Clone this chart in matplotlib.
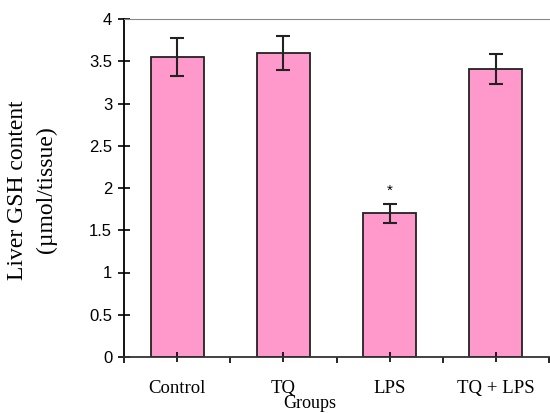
import matplotlib
matplotlib.use("Agg")
import matplotlib.pyplot as plt
import numpy as np

groups = ["Control", "TQ", "LPS", "TQ + LPS"]
gsh_mean = [3.55, 3.60, 1.70, 3.41]
gsh_err = [0.22, 0.20, 0.11, 0.18]
sig_marks = ["", "", "*", ""]

W, H = 550, 413
fig = plt.figure(figsize=(W / 100, H / 100), dpi=100)
ax = fig.add_axes([124 / W, 1 - 357 / H, 425 / W, 338 / H])

x = np.arange(len(groups))
ax.bar(x, gsh_mean, width=0.5, color="#ff99cc", edgecolor="#222222", linewidth=1.3,
       yerr=gsh_err, error_kw=dict(ecolor="#222222", elinewidth=1.5, capsize=5, capthick=1.5))

for xi, m, e, s in zip(x, gsh_mean, gsh_err, sig_marks):
    if s:
        ax.text(xi, m + e + 0.07, s, ha="center", va="bottom", fontsize=11,
                family="Liberation Sans")

ax.set_xlim(-0.5, 3.5)
ax.set_ylim(0, 4)
ax.set_yticks(np.arange(0, 4.01, 0.5))
ax.set_yticklabels(["0", "0.5", "1", "1.5", "2", "2.5", "3", "3.5", "4"],
                   family="Liberation Sans", fontsize=12)
ax.set_xticks(x)
ax.set_xticklabels(groups, family="Liberation Serif", fontsize=13.5)
ax.set_xticks(np.arange(-0.5, 3.6, 1), minor=True)

ax.tick_params(axis="y", direction="inout", length=9, width=1.2, pad=4)
ax.tick_params(axis="x", which="major", direction="inout", length=7, width=1.2, pad=13)
ax.tick_params(axis="x", which="minor", direction="out", length=4, width=1.2)

ax.spines["right"].set_visible(False)
ax.spines["top"].set_color("#888888")
ax.spines["left"].set_linewidth(1.3)
ax.spines["bottom"].set_linewidth(1.3)
ax.spines["bottom"].set_color("#333333")

fig.text(18 / W, 1 - 190 / H, "Liver GSH content", rotation=90, ha="center", va="center",
         family="Liberation Serif", fontsize=17)
fig.text(46 / W, 1 - 190 / H, "(\u00b5mol/tissue)", rotation=90, ha="center", va="center",
         family="Liberation Serif", fontsize=17)
fig.text(310 / W, 1 - 404 / H, "Groups", ha="center", va="center",
         family="Liberation Serif", fontsize=13)

fig.savefig("out.png", dpi=100)
